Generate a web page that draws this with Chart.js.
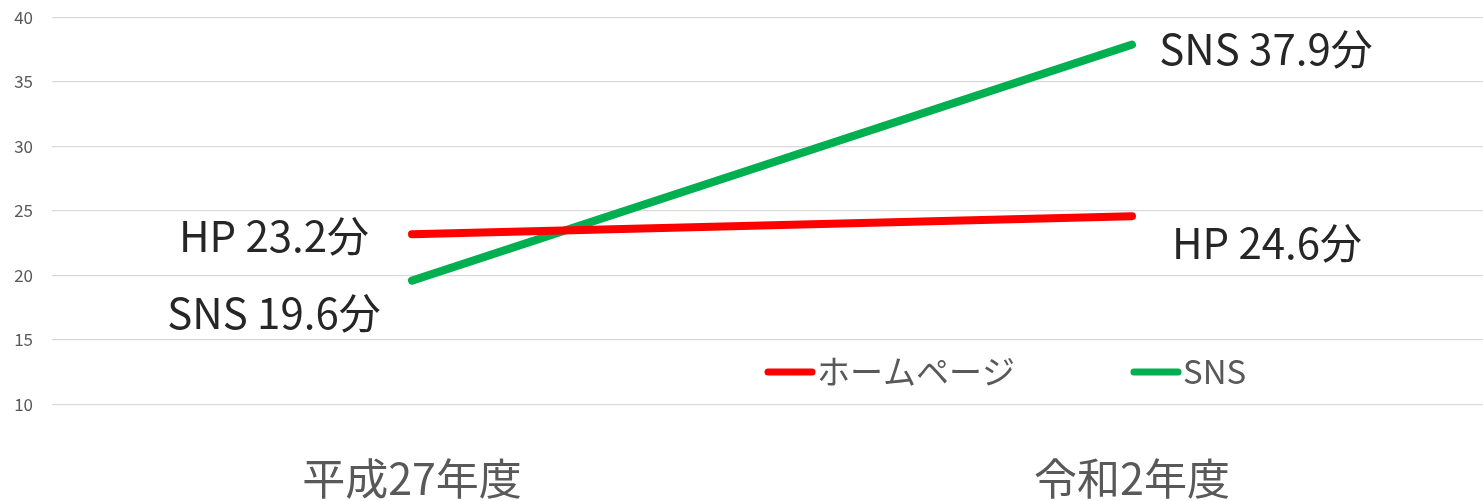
<!DOCTYPE html>
<html>
<head>
<meta charset="utf-8">
<script src="https://cdn.jsdelivr.net/npm/chart.js@4"></script>
<style>
  html, body { margin: 0; padding: 0; background: #fff; overflow: hidden; }
  #wrap { position: relative; width: 1492px; height: 501px; }
</style>
</head>
<body>
<div id="wrap"><canvas id="c"></canvas></div>
<script>
const categories = ['平成27年度', '令和2年度'];
const seriesNames = ['ホームページ', 'SNS'];
const seriesShort = ['HP', 'SNS'];
const hpValues = [23.2, 24.6];
const snsValues = [19.6, 37.9];
const yTicks = [10, 15, 20, 25, 30, 35, 40];
const colors = ['#FF0000', '#00B050'];

const JP = '"Noto Sans CJK JP", "Noto Sans", sans-serif';

// label offsets relative to each point [dataset][index] -> [dx, dy]
const labelOffsets = [
  [[-138, 2], [135, 27]],
  [[-138, 32], [134, 4]]
];

const dataLabelPlugin = {
  id: 'dataLabels',
  afterDatasetsDraw(chart) {
    const ctx = chart.ctx;
    ctx.save();
    ctx.font = '42px ' + JP;
    ctx.fillStyle = '#262626';
    ctx.textAlign = 'center';
    ctx.textBaseline = 'middle';
    chart.data.datasets.forEach((ds, i) => {
      const meta = chart.getDatasetMeta(i);
      meta.data.forEach((pt, j) => {
        const off = labelOffsets[i][j];
        ctx.fillText(seriesShort[i] + ' ' + ds.data[j].toFixed(1) + '分', pt.x + off[0], pt.y + off[1]);
      });
    });
    ctx.restore();
  }
};

const legendPlugin = {
  id: 'customLegend',
  afterDraw(chart) {
    const ctx = chart.ctx;
    const items = [
      { x: 765, text: seriesNames[0], color: colors[0] },
      { x: 1131, text: seriesNames[1], color: colors[1] }
    ];
    ctx.save();
    ctx.font = '33px ' + JP;
    ctx.textBaseline = 'middle';
    ctx.textAlign = 'left';
    items.forEach(it => {
      ctx.strokeStyle = it.color;
      ctx.lineWidth = 7;
      ctx.lineCap = 'round';
      ctx.beginPath();
      ctx.moveTo(it.x + 3, 372);
      ctx.lineTo(it.x + 47, 372);
      ctx.stroke();
      ctx.fillStyle = '#595959';
      ctx.fillText(it.text, it.x + 52, 371);
    });
    ctx.restore();
  }
};

new Chart(document.getElementById('c'), {
  type: 'line',
  data: {
    labels: categories,
    datasets: [
      { label: seriesNames[0], data: hpValues, borderColor: colors[0], backgroundColor: colors[0] },
      { label: seriesNames[1], data: snsValues, borderColor: colors[1], backgroundColor: colors[1] }
    ]
  },
  options: {
    responsive: true,
    maintainAspectRatio: false,
    animation: false,
    layout: { padding: { top: 17.5, right: 0, bottom: 0, left: 0 } },
    elements: {
      line: { borderWidth: 8, borderCapStyle: 'round', tension: 0 },
      point: { radius: 0, hoverRadius: 0 }
    },
    plugins: {
      legend: { display: false },
      tooltip: { enabled: false }
    },
    scales: {
      x: {
        offset: true,
        grid: { display: false, drawTicks: false },
        border: { display: false },
        ticks: {
          color: '#595959',
          font: { family: JP, size: 43 },
          padding: 48,
          maxRotation: 0
        },
        afterFit(scale) { scale.height = 96.5; scale.paddingLeft = 0; scale.paddingRight = 0; }
      },
      y: {
        min: 10,
        max: 40,
        afterBuildTicks(scale) { scale.ticks = yTicks.map(v => ({ value: v })); },
        grid: { color: '#d9d9d9', lineWidth: 1.3, drawTicks: false },
        border: { display: false },
        ticks: {
          color: '#595959',
          font: { family: JP, size: 17 },
          padding: 19
        },
        afterFit(scale) { scale.width = 52; scale.paddingTop = 0; scale.paddingBottom = 0; }
      }
    }
  },
  plugins: [dataLabelPlugin, legendPlugin]
});
</script>
</body>
</html>
